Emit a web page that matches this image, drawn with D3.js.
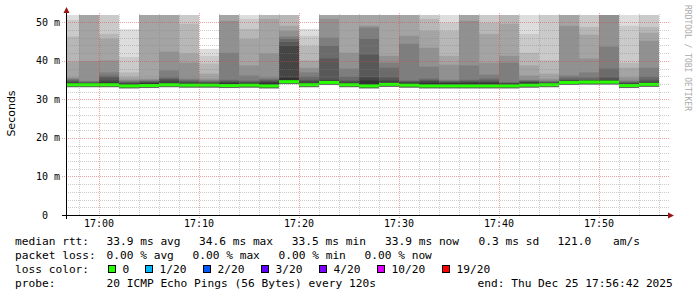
<!DOCTYPE html>
<html lang="en">
<head>
<meta charset="UTF-8">
<title>smokeping median rtt</title>
<script src="https://d3js.org/d3.v7.min.js"></script>
<style>
body { margin: 0; background: #fff; }
text { font-family: "DejaVu Sans Mono", monospace; white-space: pre; fill: #000; }
</style>
</head>
<body>
<svg width="697" height="297"></svg>
<script>
// graph window
const graphStart = new Date(2025, 11, 25, 16, 56, 42)
const graphEnd = new Date(2025, 11, 25, 17, 56, 42)

// one step = 120 s, value stamped at the end of its step
const stepEnds = ["16:58","17:00","17:02","17:04","17:06","17:08","17:10","17:12","17:14","17:16",
                  "17:18","17:20","17:22","17:24","17:26","17:28","17:30","17:32","17:34","17:36",
                  "17:38","17:40","17:42","17:44","17:46","17:48","17:50","17:52","17:54","17:56"]

// median rtt per step (ms)
const medians = [33.8,33.8,33.8,33.5,33.6,33.8,33.7,33.7,33.6,33.7,
                 33.5,34.6,33.8,34.4,33.8,33.5,33.9,33.7,33.5,33.5,
                 33.5,33.5,33.5,33.7,33.8,34.4,34.5,34.5,33.6,33.9]

// lost pings per step (out of 20)
const lost = [0,0,0,0,0,0,0,0,0,0, 0,0,0,0,0,0,0,0,0,0, 0,0,0,0,0,0,0,0,0,0]

// the 20 sorted ping rtts per step (ms)
const pings = [
  [33.1,33.15,33.2,33.2,33.2,33.25,33.25,33.3,33.5,33.7, 34.2,34.5,34.8,35.1,35.4,35.7,39.8,46.3,50.6,53.5],
  [33.1,33.15,33.2,33.2,33.2,33.25,33.25,33.3,33.5,33.7, 34.1,34.3,34.4,34.6,34.8,39.9,53,55,58,63],
  [33.1,33.15,33.2,33.2,33.2,33.25,33.25,33.3,33.5,33.7, 34.4,34.9,35.7,36.2,37.0,40.1,45.7,47.0,53,57],
  [32.8,32.85,32.9,32.9,32.9,32.95,32.95,33.0,33.2,33.4, 34.0,34.2,34.4,34.6,34.9,35.2,35.8,37.0,41.0,48.2],
  [32.9,32.95,33.0,33.0,33.0,33.05,33.05,33.1,33.3,33.5, 34.2,34.4,34.6,34.8,35.0,35.4,53,55,58,62],
  [33.1,33.15,33.2,33.2,33.2,33.25,33.25,33.3,33.5,33.7, 34.3,34.9,35.3,35.7,37.5,42.4,53,55,57,60],
  [33.0,33.05,33.1,33.1,33.1,33.15,33.15,33.2,33.4,33.6, 34.1,34.4,34.7,35.0,35.4,39.5,41.9,49.6,53,56],
  [33.0,33.05,33.1,33.1,33.1,33.15,33.15,33.2,33.4,33.6, 34.1,34.3,34.5,34.7,35.0,35.4,36.7,39.3,41.3,43.1],
  [32.9,32.95,33.0,33.0,33.0,33.05,33.05,33.1,33.3,33.5, 34.2,34.5,34.8,35.1,42.1,50.4,53,55,58,62],
  [33.0,33.05,33.1,33.1,33.1,33.15,33.15,33.2,33.4,33.6, 34.2,34.4,34.6,34.9,36.2,38.8,45.7,48.3,50.9,53],
  [32.8,32.85,32.9,32.9,32.9,32.95,32.95,33.0,33.2,33.4, 34.3,34.6,34.9,35.2,35.7,41.9,50.9,53,56,60],
  [33.9,33.95,34.0,34.0,34.0,34.05,34.05,34.1,34.3,34.5, 35.6,43.9,44.9,45.7,46.3,47.8,49.1,53,56,60],
  [33.1,33.15,33.2,33.2,33.2,33.25,33.25,33.3,33.5,33.7, 34.2,34.7,35.1,35.9,37.0,38.2,40.1,43.9,46.5,48.3],
  [33.7,33.75,33.8,33.8,33.8,33.85,33.85,33.9,34.1,34.3, 34.8,35.1,40.6,43.9,46.0,50.9,53,55,58,62],
  [33.1,33.15,33.2,33.2,33.2,33.25,33.25,33.3,33.5,33.7, 34.2,34.6,34.9,35.9,38.0,42.1,53,55,58,61],
  [32.8,32.85,32.9,32.9,32.9,32.95,32.95,33.0,33.2,33.4, 34.9,35.7,41.6,45.7,48.6,49.1,53,55,58,62],
  [33.2,33.25,33.3,33.3,33.3,33.35,33.35,33.4,33.6,33.8, 34.3,34.9,35.7,38.2,39.5,41.3,53,55,57,60],
  [33.0,33.05,33.1,33.1,33.1,33.15,33.15,33.2,33.4,33.6, 34.2,34.5,34.7,34.9,44.4,46.5,53,55,58,61],
  [32.8,32.85,32.9,32.9,32.9,32.95,32.95,33.0,33.2,33.4, 34.3,34.7,35.0,35.4,38.5,43.4,47.8,50.9,53,56],
  [32.8,32.85,32.9,32.9,32.9,32.95,32.95,33.0,33.2,33.4, 34.2,34.4,34.6,34.8,35.1,39.0,41.3,47.8,49.9,53],
  [32.8,32.85,32.9,32.9,32.9,32.95,32.95,33.0,33.2,33.4, 34.2,34.5,34.8,35.1,38.8,50.4,53,55,58,62],
  [32.8,32.85,32.9,32.9,32.9,32.95,32.95,33.0,33.2,33.4, 34.2,34.5,34.9,35.4,36.4,39.5,47.0,49.9,53,56],
  [32.8,32.85,32.9,32.9,32.9,32.95,32.95,33.0,33.2,33.4, 34.0,34.2,34.3,34.4,39.5,41.3,49.6,53,56,59],
  [33.0,33.05,33.1,33.1,33.1,33.15,33.15,33.2,33.4,33.6, 34.3,34.5,34.7,34.9,35.1,36.2,38.8,42.1,47.0,53],
  [33.1,33.15,33.2,33.2,33.2,33.25,33.25,33.3,33.5,33.7, 34.1,34.3,34.5,34.7,34.9,35.4,36.7,40.1,53,56],
  [33.7,33.75,33.8,33.8,33.8,33.85,33.85,33.9,34.1,34.3, 34.8,34.9,35.1,35.7,36.2,49.1,53,55,58,62],
  [33.8,33.85,33.9,33.9,33.9,33.95,33.95,34.0,34.2,34.4, 34.8,34.9,35.1,35.7,37.0,40.6,46.8,48.8,53,56],
  [33.8,33.85,33.9,33.9,33.9,33.95,33.95,34.0,34.2,34.4, 34.9,35.1,35.7,38.0,43.7,53,55,57,60,64],
  [32.9,32.95,33.0,33.0,33.0,33.05,33.05,33.1,33.3,33.5, 34.0,34.2,34.4,34.6,34.9,35.7,38.2,39.5,49.1,53],
  [33.2,33.25,33.3,33.3,33.3,33.35,33.35,33.4,33.6,33.8, 34.3,34.6,35.1,35.9,38.2,45.2,47.3,48.8,53,56]
]

// loss colour legend
const lossLabels = ["0","1/20","2/20","3/20","4/20","10/20","19/20"]
const lossLimits = [0,1,2,3,4,10,19]
const lossColors = ["#26ff00","#00b8ff","#0059ff","#5e00ff","#7e00ff","#dd00ff","#ff0000"]

// legend rows
const rttText = ["median rtt:","33.9 ms avg","34.6 ms max","33.5 ms min","33.9 ms now","0.3 ms sd","121.0","am/s"]
const lossText = ["packet loss:","0.00 % avg","0.00 % max","0.00 % min","0.00 % now"]
const probeText = ["probe:","20 ICMP Echo Pings (56 Bytes) every 120s","end: Thu Dec 25 17:56:42 2025"]

const svg = d3.select("svg")
const parseHM = d3.timeParse("%H:%M")
const toTime = s => { let t = parseHM(s); return new Date(2025, 11, 25, t.getHours(), t.getMinutes(), 0) }

const x = d3.scaleTime().domain([graphStart, graphEnd]).range([66, 666])
const y = d3.scaleLinear().domain([0, 51.9]).range([215, 15]).clamp(true)
const half = 10

// smoke: layer ibot spans ping ibot .. ping (21-ibot), inner layers darker
let steps = stepEnds.map((s, i) => {
    let end = toTime(s)
    let start = new Date(Math.max(+graphStart, end - 120000))
    return {start, end, p: pings[i], median: medians[i], lost: lost[i]}
})

let smoke = svg.append("g")
steps.forEach(st => {
    for (let ibot = 1; ibot <= half; ibot++) {
        let lo = st.p[ibot - 1], hi = st.p[20 - ibot]
        let c = Math.floor(190 / half * (half - ibot)) + 50
        let hex = d3.format("02x")(c)
        smoke.append("rect")
            .attr("x", x(st.start))
            .attr("width", x(st.end) - x(st.start))
            .attr("y", y(hi))
            .attr("height", Math.max(0, y(lo) - y(hi)))
            .attr("fill", "#" + hex + hex + hex)
    }
})

// median band coloured by loss
let lossColor = n => { let k = 0; lossLimits.forEach((l, j) => { if (n >= l) k = j }); return lossColors[k] }
svg.append("g").selectAll("rect")
    .data(steps)
    .enter()
    .append("rect")
    .attr("x", d => x(d.start))
    .attr("width", d => x(d.end) - x(d.start))
    .attr("y", d => y(d.median) - 1.5)
    .attr("height", 3)
    .attr("fill", d => lossColor(d.lost))

// grid on top
let grid = svg.append("g").attr("stroke-dasharray", "1,1").attr("shape-rendering", "crispEdges")
let minorY = d3.range(2, 51, 2).filter(v => v % 10 != 0)
let majorY = d3.range(10, 51, 10)
grid.selectAll(".hmin").data(minorY).enter().append("line")
    .attr("x1", 66).attr("x2", 669)
    .attr("y1", d => Math.round(y(d)) + 0.5).attr("y2", d => Math.round(y(d)) + 0.5)
    .attr("stroke", "rgba(130,130,130,0.4)")
let minorX = d3.timeMinute.every(2).range(graphStart, graphEnd).filter(t => t.getMinutes() % 10 != 0)
let majorX = d3.timeMinute.every(10).range(graphStart, graphEnd)
grid.selectAll(".vmin").data(minorX).enter().append("line")
    .attr("x1", d => Math.round(x(d)) + 0.5).attr("x2", d => Math.round(x(d)) + 0.5)
    .attr("y1", 215).attr("y2", 13)
    .attr("stroke", "rgba(130,130,130,0.4)")
grid.selectAll(".hmaj").data(majorY).enter().append("line")
    .attr("x1", 62).attr("x2", 669)
    .attr("y1", d => Math.round(y(d)) + 0.5).attr("y2", d => Math.round(y(d)) + 0.5)
    .attr("stroke", "rgba(215,70,70,0.5)")
grid.selectAll(".vmaj").data(majorX).enter().append("line")
    .attr("x1", d => Math.round(x(d)) + 0.5).attr("x2", d => Math.round(x(d)) + 0.5)
    .attr("y1", 218).attr("y2", 13)
    .attr("stroke", "rgba(215,70,70,0.5)")

// axes
svg.append("line").attr("x1", 62).attr("x2", 669).attr("y1", 215.5).attr("y2", 215.5)
    .attr("stroke", "#000").attr("shape-rendering", "crispEdges")
svg.append("line").attr("x1", 66.5).attr("x2", 66.5).attr("y1", 219).attr("y2", 11)
    .attr("stroke", "#000").attr("shape-rendering", "crispEdges")
svg.append("path").attr("d", "M63.5,13 L69.5,13 L66.5,7 Z").attr("fill", "#9a1515")
svg.append("path").attr("d", "M668,212.5 L668,218.5 L674,215.5 Z").attr("fill", "#9a1515")

svg.append("g").selectAll("text")
    .data([0].concat(majorY))
    .enter().append("text")
    .attr("x", 60).attr("y", d => y(d) + 3.5)
    .attr("text-anchor", "end")
    .style("font-size", "10px")
    .text(d => d == 0 ? "0  " : d + " m")

let fmt = d3.timeFormat("%H:%M")
svg.append("g").selectAll("text")
    .data(majorX)
    .enter().append("text")
    .attr("x", d => x(d)).attr("y", 227)
    .attr("text-anchor", "middle")
    .style("font-size", "10px")
    .text(d => fmt(d))

svg.append("text")
    .attr("transform", "translate(15,113.5) rotate(-90)")
    .attr("text-anchor", "middle")
    .style("font-family", "'DejaVu Sans', sans-serif")
    .style("font-size", "11px")
    .text("Seconds")

svg.append("text")
    .attr("transform", "translate(685,5) rotate(90)")
    .style("font-size", "8px")
    .style("fill", "#aaa")
    .text("RRDTOOL / TOBI OETIKER")

// legend
let legend = svg.append("g").style("font-size", "11.2px")
let rttX = [15, 106.5, 199, 291.8, 385, 478.5, 557.5, 613]
let lossX = [15, 106.5, 192.5, 278.5, 364.5]
let probeX = [15, 106.5, 477.5]
rttText.forEach((t, i) => legend.append("text").attr("x", rttX[i]).attr("y", 245).text(t))
lossText.forEach((t, i) => legend.append("text").attr("x", lossX[i]).attr("y", 259).text(t))
legend.append("text").attr("x", 15).attr("y", 273).text("loss color:")
let boxX = [108.5, 145.5, 203.5, 261.5, 319.5, 377.5, 442.5]
lossLabels.forEach((t, i) => {
    legend.append("rect").attr("x", boxX[i]).attr("y", 265.5).attr("width", 7).attr("height", 7)
        .attr("fill", lossColors[i]).attr("stroke", "#000")
    legend.append("text").attr("x", boxX[i] + 14).attr("y", 273).text(t)
})
probeText.forEach((t, i) => legend.append("text").attr("x", probeX[i]).attr("y", 287).text(t))
</script>
</body>
</html>
